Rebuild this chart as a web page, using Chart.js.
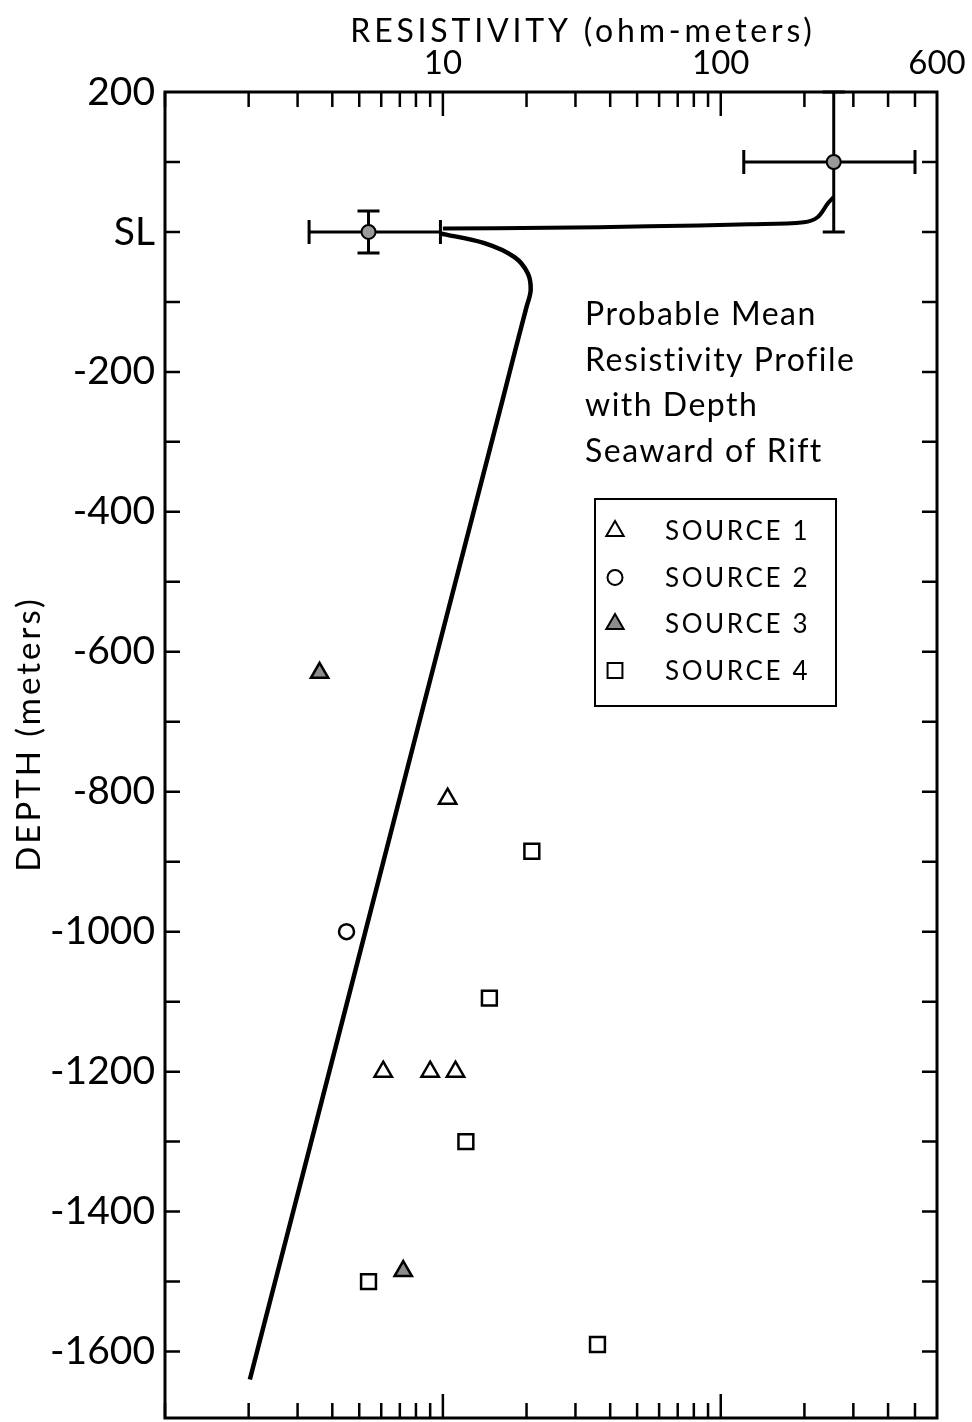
<!DOCTYPE html>
<html>
<head>
<meta charset="utf-8">
<script src="https://cdn.jsdelivr.net/npm/chart.js@4.4.1/dist/chart.umd.min.js"></script>
<style>
  html, body { margin: 0; padding: 0; background: #fff; }
</style>
</head>
<body>
<canvas id="grafico" width="972" height="1422"></canvas>
<script>
// DADOS

// Perfil medio provavel (ramo de cima e ramo de baixo)
let perfilSupRes = [10, 24, 55, 127, 199, 223, 243, 255];
let perfilSupProf = [5, 6, 8, 11, 14, 21, 41, 50];
let perfilInfRes = [9.75, 14.1, 18.1, 20.2, 20.7, 20.0, 18.35, 16.4, 12.9, 8.23, 5.26, 3.36, 2.02];
let perfilInfProf = [-2, -16, -36, -59, -83, -107, -164, -240, -400, -700, -1000, -1300, -1640];

// Fontes
let fonte1Res = [10.4, 6.1, 9.0, 11.1];
let fonte1Prof = [-810, -1200, -1200, -1200];
let fonte2Res = [4.5];
let fonte2Prof = [-1000];
let fonte3Res = [3.6, 7.2];
let fonte3Prof = [-630, -1485];
let fonte4Res = [20.9, 14.7, 12.1, 5.4, 36];
let fonte4Prof = [-885, -1095, -1300, -1500, -1590];

// Medias com barras de erro
let mediaRes = [5.4, 255];
let mediaProf = [0, 100];
let mediaResMin = [3.3, 121];
let mediaResMax = [9.8, 500];
let mediaProfMin = [-30, 0];
let mediaProfMax = [30, 200];

// Eixos
let rotulosRes = [10, 100, 600];
let marcasRes = [1, 2, 3, 4, 5, 6, 7, 8, 9, 10, 20, 30, 40, 50, 60, 70, 80, 90, 100, 200, 300, 400, 500];
let marcasResLongas = [10, 100];
let rotulosProf = [200, 0, -200, -400, -600, -800, -1000, -1200, -1400, -1600];
let marcasProf = [100, 0, -100, -200, -300, -400, -500, -600, -700, -800, -900, -1000, -1100, -1200, -1300, -1400, -1500, -1600];

let notaLinhas = ['Probable Mean', 'Resistivity Profile', 'with Depth', 'Seaward of Rift'];

function pontos(xs, ys) {
    return xs.map((x, i) => ({ x: x, y: ys[i] }));
}

const fonte = 'Lato, "DejaVu Sans", sans-serif';

// Desenho extra: moldura, marcas internas, barras de erro, textos e legenda
const extras = {
    id: 'extras',
    beforeDatasetsDraw(chart) {
        let ctx = chart.ctx;
        let sx = chart.scales.x;
        let sy = chart.scales.y;
        ctx.save();
        ctx.strokeStyle = '#000';
        ctx.lineWidth = 3;
        for (let i = 0; i < mediaRes.length; i++) {
            let px = sx.getPixelForValue(mediaRes[i]);
            let py = sy.getPixelForValue(mediaProf[i]);
            let x1 = sx.getPixelForValue(mediaResMin[i]);
            let x2 = sx.getPixelForValue(mediaResMax[i]);
            let y1 = sy.getPixelForValue(mediaProfMax[i]);
            let y2 = sy.getPixelForValue(mediaProfMin[i]);
            ctx.beginPath();
            ctx.moveTo(x1, py); ctx.lineTo(x2, py);
            ctx.moveTo(x1, py - 12); ctx.lineTo(x1, py + 12);
            ctx.moveTo(x2, py - 12); ctx.lineTo(x2, py + 12);
            ctx.moveTo(px, y1); ctx.lineTo(px, y2);
            ctx.moveTo(px - 11, y1); ctx.lineTo(px + 11, y1);
            ctx.moveTo(px - 11, y2); ctx.lineTo(px + 11, y2);
            ctx.stroke();
        }
        ctx.restore();
    },
    afterDraw(chart) {
        let ctx = chart.ctx;
        let area = chart.chartArea;
        let sx = chart.scales.x;
        let sy = chart.scales.y;
        ctx.save();
        ctx.strokeStyle = '#000';
        ctx.fillStyle = '#000';

        // moldura
        ctx.lineWidth = 3;
        ctx.strokeRect(area.left, area.top, area.right - area.left, area.bottom - area.top);

        // marcas de resistividade (topo e base, para dentro)
        ctx.lineWidth = 2.5;
        ctx.beginPath();
        marcasRes.forEach(v => {
            let px = sx.getPixelForValue(v);
            let len = marcasResLongas.includes(v) ? 24 : 15;
            ctx.moveTo(px, area.top); ctx.lineTo(px, area.top + len);
            ctx.moveTo(px, area.bottom); ctx.lineTo(px, area.bottom - len);
        });
        // marcas de profundidade (esquerda e direita)
        marcasProf.forEach(v => {
            let py = sy.getPixelForValue(v);
            ctx.moveTo(area.left, py); ctx.lineTo(area.left + 15, py);
            ctx.moveTo(area.right, py); ctx.lineTo(area.right - 15, py);
        });
        ctx.stroke();

        // titulos dos eixos
        ctx.letterSpacing = '3.8px';
        ctx.font = '32px ' + fonte;
        ctx.textAlign = 'center';
        ctx.textBaseline = 'alphabetic';
        ctx.fillText('RESISTIVITY (ohm-meters)', 583, 42);
        ctx.save();
        ctx.translate(40, 734);
        ctx.rotate(-Math.PI / 2);
        ctx.letterSpacing = '3px';
        ctx.font = '33px ' + fonte;
        ctx.fillText('DEPTH (meters)', 0, 0);
        ctx.restore();

        // nota
        ctx.letterSpacing = '1.5px';
        ctx.font = '32px ' + fonte;
        ctx.textAlign = 'left';
        notaLinhas.forEach((t, i) => {
            ctx.fillText(t, 585, 325 + i * 45.5);
        });

        // legenda
        ctx.lineWidth = 2;
        ctx.strokeRect(595, 499, 241, 207);
        ctx.font = '26px ' + fonte;
        ctx.letterSpacing = '2.6px';
        ctx.textBaseline = 'middle';
        let itens = chart.data.datasets.filter(d => d.emLegenda);
        itens.forEach((d, i) => {
            let y = 531 + i * 46.5;
            ctx.fillStyle = d.backgroundColor;
            ctx.strokeStyle = '#000';
            Chart.helpers.drawPoint(ctx, {
                pointStyle: d.pointStyle,
                radius: d.pointRadius,
                borderWidth: 2.5
            }, 615, y);
            ctx.fillStyle = '#000';
            ctx.fillText(d.label, 665, y + 1);
        });
        ctx.restore();
    }
};

const ctx = document.getElementById('grafico');

new Chart(ctx, {
    type: 'scatter',
    data: {
        datasets: [
            {
                label: 'perfil sup',
                type: 'line',
                data: pontos(perfilSupRes, perfilSupProf),
                borderColor: '#000',
                borderWidth: 4,
                pointRadius: 0,
                tension: 0.35,
                fill: false
            },
            {
                label: 'perfil inf',
                type: 'line',
                data: pontos(perfilInfRes, perfilInfProf),
                borderColor: '#000',
                borderWidth: 4.5,
                pointRadius: 0,
                tension: 0.35,
                fill: false
            },
            {
                label: 'medias',
                data: pontos(mediaRes, mediaProf),
                pointStyle: 'circle',
                pointRadius: 7,
                backgroundColor: '#9a9a9a',
                borderColor: '#000',
                borderWidth: 2
            },
            {
                label: 'SOURCE 1',
                emLegenda: true,
                data: pontos(fonte1Res, fonte1Prof),
                pointStyle: 'triangle',
                pointRadius: 10,
                backgroundColor: '#fff',
                borderColor: '#000',
                borderWidth: 2.5
            },
            {
                label: 'SOURCE 2',
                emLegenda: true,
                data: pontos(fonte2Res, fonte2Prof),
                pointStyle: 'circle',
                pointRadius: 7.5,
                backgroundColor: '#fff',
                borderColor: '#000',
                borderWidth: 2.5
            },
            {
                label: 'SOURCE 3',
                emLegenda: true,
                data: pontos(fonte3Res, fonte3Prof),
                pointStyle: 'triangle',
                pointRadius: 10,
                backgroundColor: '#8c8c8c',
                borderColor: '#000',
                borderWidth: 2.5
            },
            {
                label: 'SOURCE 4',
                emLegenda: true,
                data: pontos(fonte4Res, fonte4Prof),
                pointStyle: 'rect',
                pointRadius: 10.5,
                backgroundColor: '#fff',
                borderColor: '#000',
                borderWidth: 2.5
            }
        ]
    },
    options: {
        responsive: false,
        animation: false,
        layout: {
            autoPadding: false,
            padding: { left: 0, right: 35, top: 0, bottom: 4 }
        },
        plugins: {
            legend: { display: false },
            tooltip: { enabled: false }
        },
        scales: {
            x: {
                type: 'logarithmic',
                position: 'top',
                min: 1,
                max: 600,
                afterFit: scale => {
                    scale.height = 92;
                    scale.paddingLeft = 0;
                    scale.paddingRight = 0;
                },
                afterBuildTicks: scale => {
                    scale.ticks = rotulosRes.map(v => ({ value: v }));
                },
                grid: { display: false, drawTicks: false },
                border: { display: false },
                ticks: {
                    autoSkip: false,
                    maxRotation: 0,
                    padding: 9,
                    color: '#000',
                    font: { family: fonte, size: 33 },
                    callback: v => String(v)
                }
            },
            y: {
                type: 'linear',
                min: -1695,
                max: 200,
                afterFit: scale => {
                    scale.width = 165;
                    scale.paddingTop = 0;
                    scale.paddingBottom = 0;
                },
                afterBuildTicks: scale => {
                    scale.ticks = rotulosProf.map(v => ({ value: v }));
                },
                grid: { display: false, drawTicks: false },
                border: { display: false },
                ticks: {
                    autoSkip: false,
                    padding: 10,
                    color: '#000',
                    font: { family: fonte, size: 39 },
                    callback: v => v === 0 ? 'SL' : String(v)
                }
            }
        }
    },
    plugins: [extras]
});
</script>
</body>
</html>
